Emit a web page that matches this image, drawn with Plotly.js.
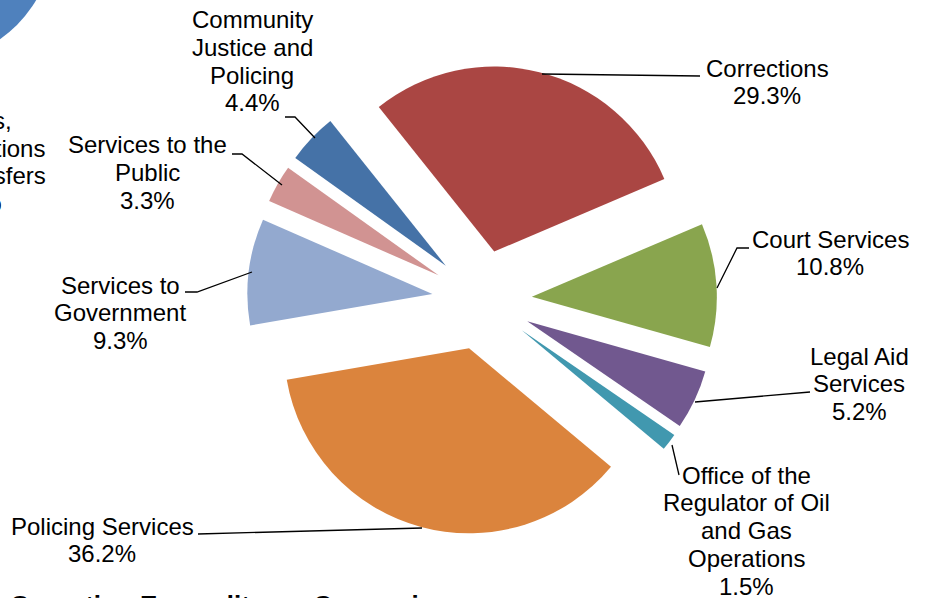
<!DOCTYPE html>
<html>
<head>
<meta charset="utf-8">
<script src="https://cdn.plot.ly/plotly-3.0.1.min.js"></script>
<style>
  html, body { margin: 0; padding: 0; background: #ffffff; }
  #chart { width: 928px; height: 598px; }
</style>
</head>
<body>
<div id="chart"></div>
<script>
// ---- data ----
const categories = [
  "Corrections",
  "Court Services",
  "Legal Aid Services",
  "Office of the Regulator of Oil and Gas Operations",
  "Policing Services",
  "Services to Government",
  "Services to the Public",
  "Community Justice and Policing"
];
const values = [29.3, 10.8, 5.2, 1.5, 36.2, 9.3, 3.3, 4.4];
const labelText = [
  "Corrections",
  "Court Services",
  "Legal Aid<br>Services",
  "Office of the<br>Regulator of Oil<br>and Gas<br>Operations",
  "Policing Services",
  "Services to<br>Government",
  "Services to the<br>Public",
  "Community<br>Justice and<br>Policing"
];
const sliceColors = ["#AA4643", "#89A54E", "#71588F", "#4198AF",
                     "#DB843D", "#93A9CF", "#D19392", "#4572A7"];
// cut-off label of the neighbouring chart (left edge)
const sideLabelLines = ["Grants,", "Contributions", "and Transfers", "1.1%"];
const bottomTitle = "Operating Expenditure - Comparison";

// ---- layout (pixels) ----
const W = 928, H = 598;
const CX = 482, CY = 300, R = 185, PULL = 0.27;
const LINE_H = 27.8;
const FONT = "Liberation Sans, Arial, sans-serif";
const FS = 24;
// label block centre x and first-line centre y
const labelPos = [
  [767, 68], [830, 239], [859, 356], [746, 475],
  [102, 526], [120, 285], [147, 145], [252, 19.5]
];
// leader lines (polyline points, px)
const leaders = [
  [[542, 74], [700, 76]],
  [[717, 288], [737, 248], [749, 248]],
  [[695, 402], [810, 392]],
  [[672, 445], [679, 475]],
  [[422, 528], [198, 534]],
  [[252, 272], [197, 292], [185, 292]],
  [[282, 185], [242, 154], [232, 154]],
  [[315, 138], [295, 117], [285, 117]]
];
const sideRight = [14, 47, 48, 4];
const sideY = [121, 149, 175, 202];

const px = x => x / W;
const py = y => 1 - y / H;

const half = R * (1 + PULL);
const trace = {
  type: "pie",
  labels: categories,
  values: values,
  sort: false,
  direction: "clockwise",
  rotation: -38.6,
  pull: PULL,
  textinfo: "none",
  hoverinfo: "label+percent",
  marker: { colors: sliceColors, line: { width: 0 } },
  domain: { x: [px(CX - half), px(CX + half)], y: [py(CY + half), py(CY - half)] },
  showlegend: false
};

const annotations = [];
const total = values.reduce((a, b) => a + b, 0);
labelText.forEach((t, i) => {
  const lines = t.split("<br>").concat([(values[i] / total * 100).toFixed(1) + "%"]);
  lines.forEach((ln, j) => {
    annotations.push({
      xref: "paper", yref: "paper",
      x: px(labelPos[i][0]), y: py(labelPos[i][1] + j * LINE_H),
      xanchor: "center", yanchor: "middle",
      text: ln, showarrow: false,
      font: { family: FONT, size: FS, color: "#000000" }
    });
  });
});
sideLabelLines.forEach((ln, j) => {
  annotations.push({
    xref: "paper", yref: "paper",
    x: px(sideRight[j]), y: py(sideY[j]),
    xanchor: "right", yanchor: "middle",
    text: ln, showarrow: false,
    font: { family: FONT, size: FS, color: "#000000" }
  });
});
annotations.push({
  xref: "paper", yref: "paper",
  x: px(8), y: py(605),
  xanchor: "left", yanchor: "middle",
  text: "<b>" + bottomTitle + "</b>", showarrow: false,
  font: { family: FONT, size: 26, color: "#000000" }
});

const shapes = leaders.map(pts => ({
  type: "path", xref: "paper", yref: "paper",
  path: pts.map((p, k) => (k ? "L" : "M") + px(p[0]) + "," + py(p[1])).join(" "),
  line: { color: "#000000", width: 1.3 }
}));
// part of the neighbouring pie (top-left corner)
shapes.unshift({
  type: "circle", xref: "paper", yref: "paper",
  x0: px(-193), x1: px(53), y0: py(61), y1: py(-185),
  fillcolor: "#4F81BD", line: { width: 0 }, layer: "below"
});

const layout = {
  width: W, height: H,
  margin: { l: 0, r: 0, t: 0, b: 0 },
  paper_bgcolor: "#ffffff",
  plot_bgcolor: "#ffffff",
  showlegend: false,
  annotations: annotations,
  shapes: shapes
};

Plotly.newPlot("chart", [trace], layout, { displayModeBar: false, staticPlot: true });
</script>
</body>
</html>
